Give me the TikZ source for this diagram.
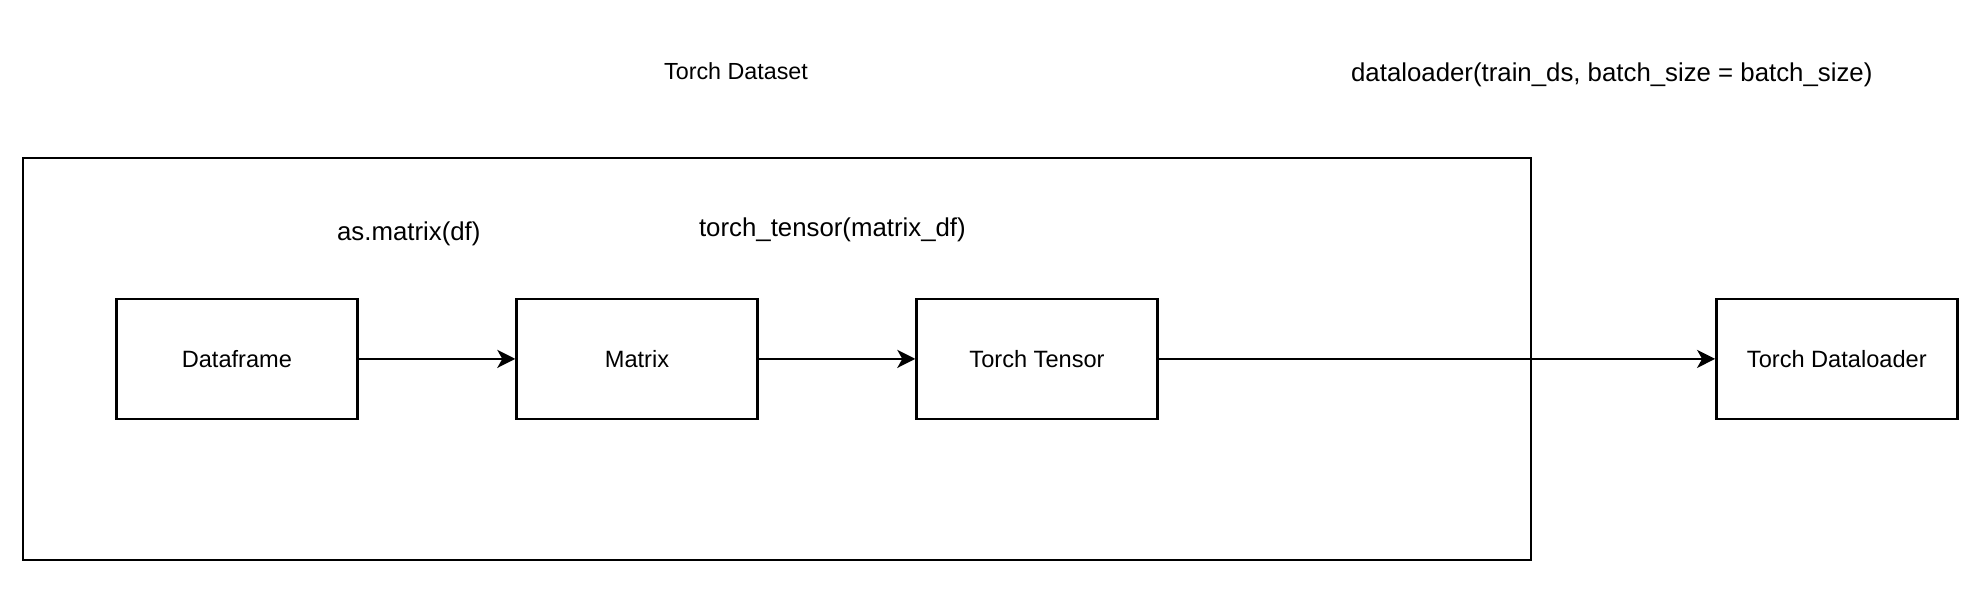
\documentclass[tikz,border=0pt]{standalone}
\usepackage{fontspec}
\setmainfont{Liberation Sans}
\usetikzlibrary{arrows.meta}
\begin{document}
\begin{tikzpicture}[x=1pt,y=-1pt,
  stage/.style={draw, line width=2.4pt, minimum width=241pt, minimum height=120pt, inner sep=0pt, font=\fontsize{23.6}{28}\selectfont},
  lbl/.style={inner sep=0pt, font=\fontsize{25.8}{30}\selectfont},
  ttl/.style={inner sep=0pt, font=\fontsize{23.3}{28}\selectfont},
  conn/.style={line width=2.4pt, -{Stealth[length=18pt,width=18pt,inset=5pt]}}]
\useasboundingbox (0,0) rectangle (1980,610);
\node[draw, line width=2.4pt, minimum width=1508pt, minimum height=402pt, inner sep=0pt] (ds) at (776.8,358.9) {};
\node[ttl] (dstitle) at (736,71.5) {Torch Dataset};
\node[lbl] (l1) at (408.8,233.8) {as.matrix(df)};
\node[lbl] (l2) at (832.4,229.6) {torch\_tensor(matrix\_df)};
\node[lbl] (l3) at (1611.8,75.3) {dataloader(train\_ds, batch\_size = batch\_size)};
\node[stage] (df) at (236.9,358.9) {Dataframe};
\node[stage] (mx) at (637,358.9) {Matrix};
\node[stage] (tt) at (1037,358.9) {Torch Tensor};
\node[stage] (dl) at (1836.8,358.9) {Torch Dataloader};
\draw[conn] (df) -- (mx);
\draw[conn] (mx) -- (tt);
\draw[conn] (tt) -- (dl);
\end{tikzpicture}
\end{document}
